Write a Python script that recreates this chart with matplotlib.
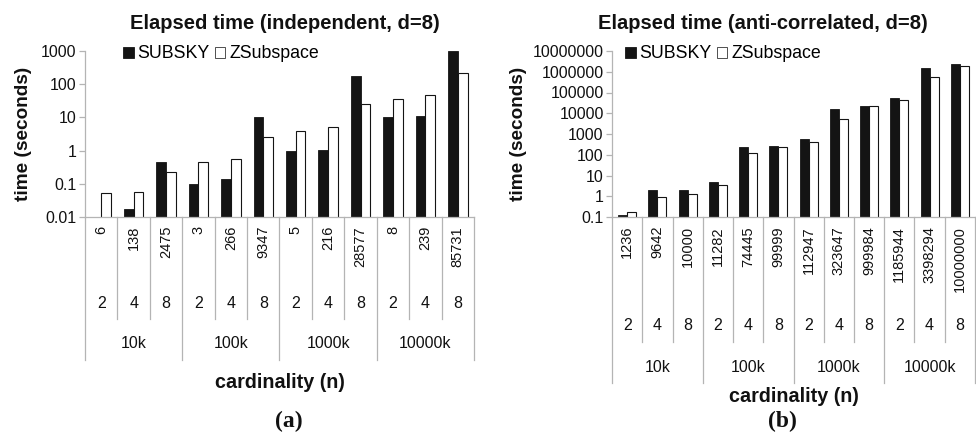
import matplotlib

matplotlib.use("Agg")
import matplotlib.pyplot as plt
import matplotlib.transforms as mtransforms
from matplotlib.patches import Patch
import numpy as np

plt.rcParams["font.family"] = ["Liberation Sans", "DejaVu Sans"]

# categories shared by both panels
groups = ["10k", "100k", "1000k", "10000k"]
dims = ["2", "4", "8", "2", "4", "8", "2", "4", "8", "2", "4", "8"]

# panel (a): independent data
ind_skyline = ["6", "138", "2475", "3", "266", "9347", "5", "216", "28577", "8", "239", "85731"]
ind_subsky = [np.nan, 0.017, 0.46, 0.10, 0.14, 10.5, 0.98, 1.05, 180, 10.0, 10.9, 1000]
ind_zsub = [0.052, 0.058, 0.226, 0.44, 0.55, 2.5, 4.0, 5.1, 24.7, 35, 46, 218]
ind_yticks = [0.01, 0.1, 1, 10, 100, 1000]

# panel (b): anti-correlated data
anti_skyline = ["1236", "9642", "10000", "11282", "74445", "99999",
                "112947", "323647", "999984", "1185944", "3398294", "10000000"]
anti_subsky = [0.125, 2.0, 2.07, 4.7, 244, 263, 550, 15850, 23000, 51700, 1.6e6, 2.4e6]
anti_zsub = [0.168, 0.95, 1.24, 3.5, 125, 226, 394, 5200, 21300, 42800, 5.3e5, 2.0e6]
anti_yticks = [0.1, 1, 10, 100, 1000, 10000, 100000, 1000000, 10000000]

W, H = 976, 434
GRID = "#b4b4b4"
BLACK = "#141414"
INK = "#111111"


def fy(ypix):
    """Figure fraction from a pixel row measured from the top."""
    return 1 - ypix / H


def draw_panel(fig, box, title, title_x, skyline, subsky, zsub, yticks, rows,
               ylabel_x, legend_x):
    x0, x1, top, bottom = box
    ax = fig.add_axes([x0 / W, fy(bottom), (x1 - x0) / W, (bottom - top) / H])
    n = len(skyline)
    x = np.arange(n)
    w = 0.3
    ax.bar(x - w / 2, subsky, w, color=BLACK, edgecolor=BLACK, lw=0.6)
    ax.bar(x + w / 2, zsub, w, color="white", edgecolor=BLACK, lw=0.8)
    ax.set_yscale("log")
    ax.set_ylim(yticks[0], yticks[-1])
    ax.set_xlim(-0.5, n - 0.5)
    ax.set_yticks(yticks)
    ax.set_yticklabels([f"{v:.10g}" for v in yticks], fontsize=11.5)
    ax.yaxis.set_minor_locator(matplotlib.ticker.NullLocator())
    ax.set_xticks([])
    for s in ("top", "right"):
        ax.spines[s].set_visible(False)
    for s in ("left", "bottom"):
        ax.spines[s].set_color(GRID)
        ax.spines[s].set_linewidth(0.9)
    ax.tick_params(axis="y", color=GRID, length=4, width=0.9, pad=2, labelcolor=INK)

    fig.text(title_x / W, fy(23.5), title, ha="center", va="center",
             fontsize=14.5, fontweight="bold", color=INK)
    ax.set_ylabel("time (seconds)", fontsize=13.7, fontweight="bold", color=INK)
    # the label anchor sits on its right-hand edge
    ax.yaxis.set_label_coords((ylabel_x - x0) / (x1 - x0), 0.5)

    handles = [Patch(facecolor=BLACK, edgecolor=BLACK, lw=0.6),
               Patch(facecolor="white", edgecolor="#333333", lw=0.6)]
    ax.legend(handles, ["SUBSKY", "ZSubspace"], loc="center left",
              bbox_to_anchor=((legend_x - x0) / (x1 - x0), (bottom - 54) / (bottom - top)),
              ncol=2, frameon=False, fontsize=12.8,
              handlelength=0.6, handleheight=0.6, handletextpad=0.2,
              columnspacing=0.3, borderaxespad=0, borderpad=0)

    # multi-level category axis below the plot area
    trans = mtransforms.blended_transform_factory(ax.transData, fig.transFigure)
    lab_top, dim_y, sep_end, grp_y, grp_end, xlab_y = rows
    for i in range(n + 1):
        end = grp_end if i % 3 == 0 else sep_end
        ax.plot([i - 0.5, i - 0.5], [fy(bottom), fy(end)], color=GRID, lw=0.9,
                transform=trans, clip_on=False)
    for i in range(n):
        ax.text(i, fy(lab_top), skyline[i], rotation=90, ha="center", va="top",
                fontsize=10.5, transform=trans, color=INK)
        ax.text(i, fy(dim_y), dims[i], ha="center", va="center",
                fontsize=11.5, transform=trans, color=INK)
    for g, name in enumerate(groups):
        ax.text(3 * g + 1, fy(grp_y), name, ha="center", va="center",
                fontsize=11.5, transform=trans, color=INK)
    ax.text((n - 1) / 2, fy(xlab_y), "cardinality (n)", ha="center", va="center",
            fontsize=14.2, fontweight="bold", transform=trans, color=INK)
    return ax


fig = plt.figure(figsize=(W / 100, H / 100), dpi=100)

draw_panel(fig, (85, 474, 51, 217), "Elapsed time (independent, d=8)", 285,
           ind_skyline, ind_subsky, ind_zsub, ind_yticks,
           (226, 303, 319, 343, 360, 382), 32, 123)
draw_panel(fig, (612, 975, 51, 217), "Elapsed time (anti-correlated, d=8)", 763,
           anti_skyline, anti_subsky, anti_zsub, anti_yticks,
           (226, 326, 342, 367, 383, 397), 527, 625)

fig.text(289 / W, fy(421), "(a)", ha="center", va="center", fontsize=17,
         fontweight="bold", family=["Liberation Serif", "DejaVu Serif"], color=INK)
fig.text(782 / W, fy(421), "(b)", ha="center", va="center", fontsize=17,
         fontweight="bold", family=["Liberation Serif", "DejaVu Serif"], color=INK)

fig.savefig("out.png", dpi=100)
